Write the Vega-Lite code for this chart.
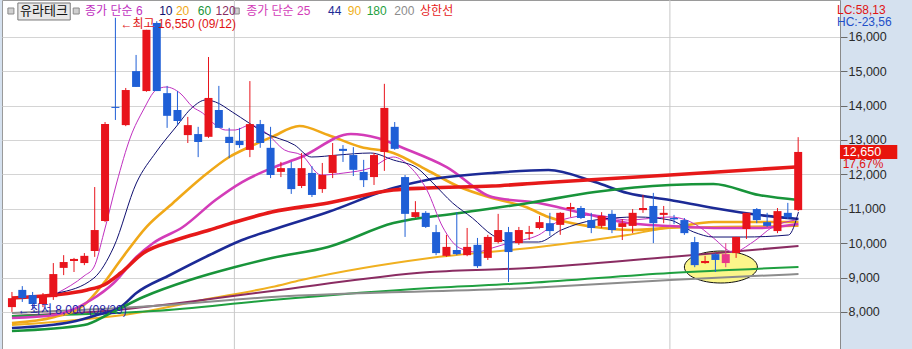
{
 "$schema": "https://vega.github.io/schema/vega-lite/v6.json",
 "width": 838, "height": 349,
 "autosize": {"type": "none"},
 "padding": {"left": 2, "top": 0, "right": 72, "bottom": 0},
 "background": "#d5e1ef",
 "config": {"view": {"fill": "white", "stroke": "#9a9a9a"}, "font": "Liberation Sans, Noto Sans CJK KR"},
 "datasets": {
  "candles": [
   {"i":0,"o":8140,"h":8580,"l":8000,"c":8400},
   {"i":1,"o":8640,"h":8750,"l":8290,"c":8400},
   {"i":2,"o":8490,"h":8580,"l":8110,"c":8230},
   {"i":3,"o":8230,"h":8550,"l":8140,"c":8460},
   {"i":4,"o":8430,"h":9420,"l":8350,"c":9100},
   {"i":5,"o":9280,"h":9650,"l":9070,"c":9450},
   {"i":6,"o":9480,"h":9570,"l":9160,"c":9540},
   {"i":7,"o":9420,"h":9710,"l":9360,"c":9630},
   {"i":8,"o":9770,"h":11630,"l":9600,"c":10380},
   {"i":9,"o":10640,"h":13520,"l":10610,"c":13460},
   {"i":10,"o":13960,"h":16550,"l":13580,"c":13930},
   {"i":11,"o":13430,"h":14510,"l":13400,"c":14450},
   {"i":12,"o":15000,"h":15470,"l":14540,"c":14540},
   {"i":13,"o":14420,"h":16200,"l":14400,"c":16200},
   {"i":14,"o":16400,"h":16450,"l":14420,"c":14420},
   {"i":15,"o":14360,"h":14570,"l":13350,"c":13700},
   {"i":16,"o":13870,"h":14420,"l":13430,"c":13550},
   {"i":17,"o":13140,"h":13670,"l":12910,"c":13430},
   {"i":18,"o":13170,"h":13380,"l":12500,"c":12940},
   {"i":19,"o":13090,"h":15410,"l":13060,"c":14220},
   {"i":20,"o":13870,"h":14570,"l":13350,"c":13350},
   {"i":21,"o":13090,"h":13350,"l":12470,"c":12910},
   {"i":22,"o":12970,"h":13350,"l":12770,"c":12850},
   {"i":23,"o":12710,"h":14710,"l":12500,"c":13460},
   {"i":24,"o":13460,"h":13580,"l":12770,"c":12910},
   {"i":25,"o":12770,"h":13380,"l":11890,"c":11980},
   {"i":26,"o":12070,"h":12360,"l":11920,"c":12180},
   {"i":27,"o":12180,"h":12360,"l":11430,"c":11570},
   {"i":28,"o":11660,"h":12620,"l":11600,"c":12180},
   {"i":29,"o":12040,"h":12240,"l":11340,"c":11400},
   {"i":30,"o":11570,"h":12330,"l":11460,"c":11980},
   {"i":31,"o":12040,"h":12910,"l":11890,"c":12560},
   {"i":32,"o":12740,"h":12850,"l":12360,"c":12680},
   {"i":33,"o":12560,"h":12790,"l":11950,"c":12130},
   {"i":34,"o":12070,"h":12420,"l":11630,"c":11830},
   {"i":35,"o":11920,"h":12620,"l":11690,"c":12560},
   {"i":36,"o":12650,"h":14630,"l":12100,"c":13930},
   {"i":37,"o":13380,"h":13520,"l":12710,"c":12740},
   {"i":38,"o":11920,"h":11980,"l":10180,"c":10850},
   {"i":39,"o":10760,"h":11220,"l":10730,"c":10900},
   {"i":40,"o":10880,"h":10930,"l":10440,"c":10470},
   {"i":41,"o":10320,"h":10530,"l":9650,"c":9710},
   {"i":42,"o":9630,"h":10240,"l":9600,"c":9890},
   {"i":43,"o":9800,"h":10900,"l":9650,"c":9680},
   {"i":44,"o":9650,"h":10440,"l":9620,"c":9890},
   {"i":45,"o":9950,"h":10150,"l":9280,"c":9330},
   {"i":46,"o":9570,"h":10240,"l":9510,"c":10180},
   {"i":47,"o":10030,"h":10850,"l":9990,"c":10380},
   {"i":48,"o":10320,"h":10470,"l":8870,"c":9740},
   {"i":49,"o":10000,"h":10470,"l":9950,"c":10380},
   {"i":50,"o":10270,"h":10500,"l":10090,"c":10320},
   {"i":51,"o":10440,"h":10790,"l":10400,"c":10610},
   {"i":52,"o":10580,"h":10880,"l":10210,"c":10350},
   {"i":53,"o":10530,"h":10900,"l":10240,"c":10880},
   {"i":54,"o":10990,"h":11170,"l":10760,"c":11050},
   {"i":55,"o":11020,"h":11080,"l":10700,"c":10730},
   {"i":56,"o":10670,"h":10880,"l":10290,"c":10440},
   {"i":57,"o":10500,"h":10900,"l":10440,"c":10790},
   {"i":58,"o":10850,"h":10960,"l":10290,"c":10380},
   {"i":59,"o":10470,"h":10700,"l":10090,"c":10580},
   {"i":60,"o":10500,"h":10990,"l":10290,"c":10880},
   {"i":61,"o":10960,"h":11400,"l":10880,"c":11020},
   {"i":62,"o":11080,"h":11460,"l":10000,"c":10580},
   {"i":63,"o":10820,"h":11080,"l":10580,"c":10880},
   {"i":64,"o":10730,"h":10820,"l":10550,"c":10690},
   {"i":65,"o":10670,"h":10730,"l":10240,"c":10290},
   {"i":66,"o":10030,"h":10180,"l":9300,"c":9360},
   {"i":67,"o":9420,"h":9630,"l":9400,"c":9480},
   {"i":68,"o":9680,"h":9700,"l":9160,"c":9510},
   {"i":69,"o":9420,"h":10000,"l":9300,"c":9680},
   {"i":70,"o":9710,"h":10180,"l":9570,"c":10180},
   {"i":71,"o":10410,"h":10880,"l":10120,"c":10880},
   {"i":72,"o":10990,"h":11020,"l":10580,"c":10670},
   {"i":73,"o":10610,"h":10880,"l":10470,"c":10500},
   {"i":74,"o":10350,"h":11020,"l":10290,"c":10930},
   {"i":75,"o":10880,"h":11170,"l":10700,"c":10750},
   {"i":76,"o":10960,"h":13080,"l":10930,"c":12650}
  ],
  "ma": [
   {"s":"MA6","i":4.39,"v":8549},{"s":"MA6","i":6.97,"v":9044},{"s":"MA6","i":7.93,"v":9305},{"s":"MA6","i":8.88,"v":10294},{"s":"MA6","i":10.12,"v":11747},{"s":"MA6","i":11.46,"v":13084},{"s":"MA6","i":12.7,"v":13869},{"s":"MA6","i":13.94,"v":14451},{"s":"MA6","i":14.9,"v":14538},{"s":"MA6","i":16.24,"v":14363},{"s":"MA6","i":17.48,"v":13956},{"s":"MA6","i":18.43,"v":13782},{"s":"MA6","i":19.68,"v":13433},{"s":"MA6","i":20.63,"v":13288},{"s":"MA6","i":21.58,"v":13288},{"s":"MA6","i":23.02,"v":13433},{"s":"MA6","i":24.45,"v":13230},{"s":"MA6","i":26.36,"v":12706},{"s":"MA6","i":27.98,"v":12561},{"s":"MA6","i":29.89,"v":11980},{"s":"MA6","i":32.09,"v":12038},{"s":"MA6","i":34.67,"v":12183},{"s":"MA6","i":36.87,"v":12503},{"s":"MA6","i":38.49,"v":12212},{"s":"MA6","i":40.11,"v":11544},{"s":"MA6","i":41.64,"v":10468},{"s":"MA6","i":43.27,"v":9858},{"s":"MA6","i":44.89,"v":9741},{"s":"MA6","i":46.42,"v":9858},{"s":"MA6","i":48.04,"v":10003},{"s":"MA6","i":50.91,"v":10236},{"s":"MA6","i":53.1,"v":10671},{"s":"MA6","i":56.35,"v":10817},{"s":"MA6","i":59.5,"v":10671},{"s":"MA6","i":63.61,"v":10759},{"s":"MA6","i":66.48,"v":10468},{"s":"MA6","i":67.81,"v":10148},{"s":"MA6","i":69.72,"v":9741},{"s":"MA6","i":71.63,"v":10032},{"s":"MA6","i":73.54,"v":10468},{"s":"MA6","i":75.74,"v":10671},
   {"s":"MA10","i":4.39,"v":8549},{"s":"MA10","i":7.93,"v":8986},{"s":"MA10","i":9.84,"v":9887},{"s":"MA10","i":12.03,"v":11747},{"s":"MA10","i":13.94,"v":12648},{"s":"MA10","i":15.85,"v":13375},{"s":"MA10","i":17.48,"v":13956},{"s":"MA10","i":18.72,"v":14160},{"s":"MA10","i":19.68,"v":14102},{"s":"MA10","i":21.3,"v":13811},{"s":"MA10","i":22.92,"v":13491},{"s":"MA10","i":24.45,"v":13201},{"s":"MA10","i":27.32,"v":12852},{"s":"MA10","i":28.94,"v":12503},{"s":"MA10","i":31.52,"v":12561},{"s":"MA10","i":34.67,"v":12619},{"s":"MA10","i":36.87,"v":12416},{"s":"MA10","i":39.16,"v":12183},{"s":"MA10","i":40.69,"v":11747},{"s":"MA10","i":42.6,"v":11166},{"s":"MA10","i":44.51,"v":10730},{"s":"MA10","i":46.42,"v":10236},{"s":"MA10","i":48.33,"v":10032},{"s":"MA10","i":50.91,"v":10032},{"s":"MA10","i":53.1,"v":10381},{"s":"MA10","i":56.35,"v":10671},{"s":"MA10","i":60.46,"v":10759},{"s":"MA10","i":63.61,"v":10671},{"s":"MA10","i":65.9,"v":10323},{"s":"MA10","i":67.81,"v":10177},{"s":"MA10","i":70.68,"v":10177},{"s":"MA10","i":75.07,"v":10236},{"s":"MA10","i":76.03,"v":10904},
   {"s":"MA20","i":0,"v":7677},{"s":"MA20","i":4.11,"v":7852},{"s":"MA20","i":6.97,"v":8201},{"s":"MA20","i":8.88,"v":8840},{"s":"MA20","i":10.51,"v":9509},{"s":"MA20","i":12.99,"v":10468},{"s":"MA20","i":15.57,"v":11166},{"s":"MA20","i":18.43,"v":11922},{"s":"MA20","i":21.01,"v":12503},{"s":"MA20","i":22.92,"v":12794},{"s":"MA20","i":25.12,"v":13084},{"s":"MA20","i":27.79,"v":13404},{"s":"MA20","i":30.56,"v":13143},{"s":"MA20","i":33.72,"v":12794},{"s":"MA20","i":36.87,"v":12619},{"s":"MA20","i":40.11,"v":12125},{"s":"MA20","i":43.27,"v":11631},{"s":"MA20","i":46.42,"v":11311},{"s":"MA20","i":49.67,"v":11049},{"s":"MA20","i":51.86,"v":10759},{"s":"MA20","i":56.35,"v":10468},{"s":"MA20","i":59.79,"v":10381},{"s":"MA20","i":63.99,"v":10468},{"s":"MA20","i":67.81,"v":10613},{"s":"MA20","i":76.03,"v":10613},
   {"s":"MA25","i":0,"v":7823},{"s":"MA25","i":4.11,"v":7910},{"s":"MA25","i":7.64,"v":8346},{"s":"MA25","i":9.84,"v":8840},{"s":"MA25","i":12.03,"v":9596},{"s":"MA25","i":13.66,"v":10003},{"s":"MA25","i":16.52,"v":10468},{"s":"MA25","i":19.68,"v":11253},{"s":"MA25","i":22.25,"v":11776},{"s":"MA25","i":25.12,"v":12183},{"s":"MA25","i":27.98,"v":12503},{"s":"MA25","i":32.76,"v":13172},{"s":"MA25","i":35.34,"v":13055},{"s":"MA25","i":37.82,"v":12765},{"s":"MA25","i":42.02,"v":12212},{"s":"MA25","i":46.42,"v":11340},{"s":"MA25","i":50.91,"v":11166},{"s":"MA25","i":54.73,"v":10904},{"s":"MA25","i":59.5,"v":10584},{"s":"MA25","i":63.61,"v":10497},{"s":"MA25","i":67.81,"v":10439},{"s":"MA25","i":72.21,"v":10439},{"s":"MA25","i":76.03,"v":10555},
   {"s":"상한선","i":0,"v":8404},{"s":"상한선","i":4.11,"v":8491},{"s":"상한선","i":7.26,"v":8637},{"s":"상한선","i":8.88,"v":8782},{"s":"상한선","i":10.51,"v":9131},{"s":"상한선","i":12.7,"v":9712},{"s":"상한선","i":15.85,"v":10090},{"s":"상한선","i":19.1,"v":10381},{"s":"상한선","i":21.58,"v":10613},{"s":"상한선","i":25.12,"v":10904},{"s":"상한선","i":30.56,"v":11166},{"s":"상한선","i":36.87,"v":11544},{"s":"상한선","i":40.11,"v":11602},{"s":"상한선","i":46.42,"v":11660},{"s":"상한선","i":50.91,"v":11747},{"s":"상한선","i":63.61,"v":11980},{"s":"상한선","i":75.74,"v":12212},
   {"s":"MA44","i":0,"v":7532},{"s":"MA44","i":5.73,"v":7707},{"s":"MA44","i":8.21,"v":7910},{"s":"MA44","i":10.51,"v":8143},{"s":"MA44","i":12.03,"v":8549},{"s":"MA44","i":15.28,"v":9073},{"s":"MA44","i":19.1,"v":9654},{"s":"MA44","i":22.25,"v":10090},{"s":"MA44","i":25.12,"v":10381},{"s":"MA44","i":30.56,"v":10904},{"s":"MA44","i":36.87,"v":11602},{"s":"MA44","i":40.11,"v":11834},{"s":"MA44","i":46.42,"v":12038},{"s":"MA44","i":51.86,"v":12125},{"s":"MA44","i":56.35,"v":11776},{"s":"MA44","i":59.5,"v":11456},{"s":"MA44","i":63.61,"v":11253},{"s":"MA44","i":67.81,"v":11020},{"s":"MA44","i":72.21,"v":10817},{"s":"MA44","i":76.03,"v":10701},
   {"s":"MA60","i":0,"v":7445},{"s":"MA60","i":6.97,"v":7619},{"s":"MA60","i":9.55,"v":7968},{"s":"MA60","i":12.7,"v":8433},{"s":"MA60","i":17.19,"v":8927},{"s":"MA60","i":21.58,"v":9305},{"s":"MA60","i":25.12,"v":9567},{"s":"MA60","i":30.56,"v":9887},{"s":"MA60","i":36.87,"v":10584},{"s":"MA60","i":43.27,"v":10875},{"s":"MA60","i":49.95,"v":11166},{"s":"MA60","i":56.35,"v":11485},{"s":"MA60","i":63.61,"v":11689},{"s":"MA60","i":67.81,"v":11718},{"s":"MA60","i":72.21,"v":11398},{"s":"MA60","i":76.03,"v":11253},
   {"s":"MA90","i":0,"v":7619},{"s":"MA90","i":12.03,"v":7968},{"s":"MA90","i":18.43,"v":8346},{"s":"MA90","i":25.12,"v":8724},{"s":"MA90","i":27.98,"v":8927},{"s":"MA90","i":40.4,"v":9567},{"s":"MA90","i":50.91,"v":9887},{"s":"MA90","i":59.5,"v":10236},{"s":"MA90","i":63.61,"v":10439},{"s":"MA90","i":76.03,"v":10497},
   {"s":"MA120","i":0,"v":7881},{"s":"MA120","i":8.88,"v":8026},{"s":"MA120","i":18.43,"v":8346},{"s":"MA120","i":25.12,"v":8608},{"s":"MA120","i":40.4,"v":9160},{"s":"MA120","i":49.95,"v":9276},{"s":"MA120","i":63.61,"v":9596},{"s":"MA120","i":76.03,"v":9916},
   {"s":"MA180","i":0,"v":7881},{"s":"MA180","i":13.66,"v":8026},{"s":"MA180","i":25.12,"v":8346},{"s":"MA180","i":40.4,"v":8694},{"s":"MA180","i":49.95,"v":8840},{"s":"MA180","i":63.61,"v":9131},{"s":"MA180","i":76.03,"v":9305},
   {"s":"MA200","i":0,"v":7968},{"s":"MA200","i":13.66,"v":8172},{"s":"MA200","i":25.12,"v":8433},{"s":"MA200","i":49.95,"v":8694},{"s":"MA200","i":63.61,"v":8927},{"s":"MA200","i":76.03,"v":9102}
  ],
  "vgrid": [{"i": 21.5}, {"i": 63.6}],
  "legend": [
   {"label":"종가 단순 6","s":"MA6","i":7.07},
   {"label":"10","s":"MA10","i":14.23},
   {"label":"20","s":"MA20","i":15.85},
   {"label":"60","s":"MA60","i":17.96},
   {"label":"120","s":"MA120","i":19.68},
   {"label":"종가 단순 25","s":"MA25","i":22.64},
   {"label":"44","s":"MA44","i":30.56},
   {"label":"90","s":"MA90","i":32.47},
   {"label":"180","s":"MA180","i":34.29},
   {"label":"200","s":"MA200","i":36.96},
   {"label":"상한선","s":"상한선","i":39.45}
  ],
  "squares": [{"i": -0.1}, {"i": 6.21}, {"i": 21.68}],
  "notes": [
   {"label":"←최고 16,550 (09/12)","k":"hi","i":10.5,"v":16370},
   {"label":"←최저 8,000 (08/29)","k":"lo","i":0.57,"v":8055},
   {"label":"LC:58,13","k":"lc","i":79.75,"v":16790},
   {"label":"HC:-23,56","k":"hc","i":79.75,"v":16430},
   {"label":"17,67%","k":"pct","i":80.3,"v":12290}
  ],
  "focus": [{"i": 68.53, "v": 9305}]
 },
 "layer": [
  {
   "data": {"name": "vgrid"},
   "mark": {"type": "rule", "color": "#c8c8c8", "strokeWidth": 1},
   "encoding": {
    "x": {"field": "i", "type": "quantitative", "scale": {"domain": [-0.478, 79.56], "nice": false, "zero": false}, "axis": null},
    "y": {"datum": 17067, "type": "quantitative",
     "scale": {"domain": [6922, 17067], "nice": false, "zero": false},
     "axis": {
      "orient": "right", "title": null,
      "values": [8000,9000,10000,11000,12000,13000,14000,15000,16000],
      "format": ",d",
      "tickSize": 7,
      "grid": true,
      "gridColor": "#d4d4d4",
      "domainColor": "#8a8a8a", "tickColor": "#6a6a6a",
      "labelFont": "Liberation Sans",
      "labelFontSize": 12.5, "labelColor": "#2a2a2a", "labelPadding": 1,
      "labelBaseline": "middle", "labelOverlap": false, "labelFlush": false
     }
    },
    "y2": {"datum": 6922}
   }
  },
  {
   "data": {"name": "focus"},
   "mark": {"type": "point", "shape": "M -1 0 A 1 0.438 0 1 1 1 0 A 1 0.438 0 1 1 -1 0 Z", "size": 5329, "fill": "#fbf68a", "fillOpacity": 1, "stroke": "#111111", "strokeWidth": 1, "opacity": 1},
   "encoding": {
    "x": {"field": "i", "type": "quantitative"},
    "y": {"field": "v", "type": "quantitative"}
   }
  },
  {
   "data": {"name": "ma"},
   "transform": [{"filter": {"field": "s", "oneOf": ["MA90", "MA120", "MA180", "MA200"]}}],
   "mark": {"type": "line", "interpolate": "monotone", "strokeWidth": 2},
   "encoding": {
    "x": {"field": "i", "type": "quantitative"},
    "y": {"field": "v", "type": "quantitative"},
    "color": {"field": "s", "type": "nominal", "legend": null,
     "scale": {"domain": ["MA6","MA10","MA20","MA60","MA120","MA25","MA44","MA90","MA180","MA200","상한선"],
               "range": ["#c030c0","#101070","#f0a818","#18943a","#8a2c62","#d33cb8","#1c2a96","#f0b020","#1fa040","#8c8c8c","#e61919"]}}
   }
  },
  {
   "data": {"name": "ma"},
   "transform": [{"filter": {"field": "s", "oneOf": ["MA20", "MA25", "MA44", "MA60"]}}],
   "mark": {"type": "line", "interpolate": "monotone", "strokeWidth": 2.6},
   "encoding": {
    "x": {"field": "i", "type": "quantitative"},
    "y": {"field": "v", "type": "quantitative"},
    "color": {"field": "s", "type": "nominal", "legend": null}
   }
  },
  {
   "data": {"name": "ma"},
   "transform": [{"filter": {"field": "s", "oneOf": ["상한선"]}}],
   "mark": {"type": "line", "interpolate": "monotone", "strokeWidth": 3.6},
   "encoding": {
    "x": {"field": "i", "type": "quantitative"},
    "y": {"field": "v", "type": "quantitative"},
    "color": {"field": "s", "type": "nominal", "legend": null}
   }
  },
  {
   "data": {"name": "ma"},
   "transform": [{"filter": {"field": "s", "oneOf": ["MA6", "MA10"]}}],
   "mark": {"type": "line", "interpolate": "monotone", "strokeWidth": 1},
   "encoding": {
    "x": {"field": "i", "type": "quantitative"},
    "y": {"field": "v", "type": "quantitative"},
    "color": {"field": "s", "type": "nominal", "legend": null}
   }
  },
  {
   "data": {"name": "candles"},
   "mark": {"type": "rule", "strokeWidth": 1},
   "encoding": {
    "x": {"field": "i", "type": "quantitative"},
    "y": {"field": "l", "type": "quantitative"},
    "y2": {"field": "h"},
    "stroke": {"condition": [{"test": "datum.i === 69", "value": "#e8388a"}, {"test": "datum.c >= datum.o", "value": "#e8141c"}], "value": "#1f5fd6"}
   }
  },
  {
   "data": {"name": "candles"},
   "mark": {"type": "bar", "size": 8},
   "encoding": {
    "x": {"field": "i", "type": "quantitative"},
    "y": {"field": "o", "type": "quantitative"},
    "y2": {"field": "c"},
    "fill": {"condition": [{"test": "datum.i === 69", "value": "#e8388a"}, {"test": "datum.c >= datum.o", "value": "#e8141c"}], "value": "#1f5fd6"}
   }
  },
  {
   "data": {"values": [{"a": 1}]},
   "mark": {"type": "rect", "fill": "#e8e8e8", "stroke": "#7a7a7a", "strokeWidth": 1},
   "encoding": {
    "x": {"datum": 0.573, "type": "quantitative"},
    "x2": {"datum": 5.635},
    "y": {"datum": 16980, "type": "quantitative"},
    "y2": {"datum": 16486}
   }
  },
  {
   "data": {"values": [{"label": "유라테크"}]},
   "mark": {"type": "text", "fontSize": 13, "color": "#111111", "align": "center", "baseline": "middle", "font": "Noto Sans CJK KR"},
   "encoding": {
    "x": {"datum": 3.1, "type": "quantitative"},
    "y": {"datum": 16733, "type": "quantitative"},
    "text": {"field": "label"}
   }
  },
  {
   "data": {"name": "squares"},
   "mark": {"type": "point", "shape": "square", "size": 36, "filled": true, "fill": "#d0d0d0", "stroke": "#8a8a8a", "strokeWidth": 1, "opacity": 1},
   "encoding": {
    "x": {"field": "i", "type": "quantitative"},
    "y": {"datum": 16747, "type": "quantitative"}
   }
  },
  {
   "data": {"name": "legend"},
   "mark": {"type": "text", "fontSize": 12, "align": "left", "baseline": "middle"},
   "encoding": {
    "x": {"field": "i", "type": "quantitative"},
    "y": {"datum": 16752, "type": "quantitative"},
    "text": {"field": "label"},
    "color": {"field": "s", "type": "nominal", "legend": null}
   }
  },
  {
   "data": {"values": [{"a": 1}]},
   "mark": {"type": "rect", "fill": "#e8140c"},
   "encoding": {
    "x": {"datum": 80.04, "type": "quantitative"},
    "x2": {"datum": 85.58},
    "y": {"datum": 12445, "type": "quantitative"},
    "y2": {"datum": 12852}
   }
  },
  {
   "data": {"values": [{"label": "12,650"}]},
   "mark": {"type": "text", "fontSize": 12.5, "color": "#ffffff", "align": "left", "baseline": "middle"},
   "encoding": {
    "x": {"datum": 80.32, "type": "quantitative"},
    "y": {"datum": 12650, "type": "quantitative"},
    "text": {"field": "label"}
   }
  },
  {
   "data": {"name": "notes"},
   "mark": {"type": "text", "fontSize": 12, "align": "left", "baseline": "middle"},
   "encoding": {
    "x": {"field": "i", "type": "quantitative"},
    "y": {"field": "v", "type": "quantitative"},
    "text": {"field": "label"},
    "fill": {"condition": [{"test": "datum.k === 'lo'", "value": "#2424a8"}, {"test": "datum.k === 'hc'", "value": "#1f4fc8"}], "value": "#e01414"}
   }
  }
 ]
}
